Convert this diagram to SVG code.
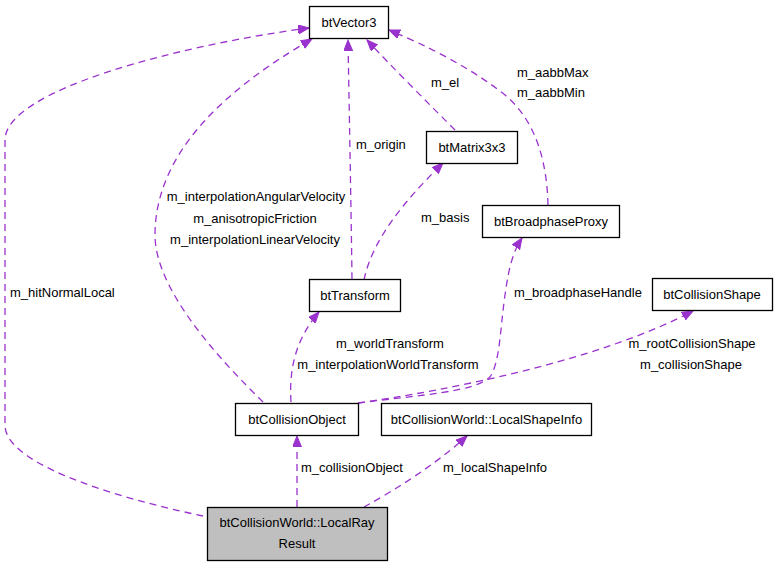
<svg xmlns="http://www.w3.org/2000/svg" width="779" height="568" viewBox="0 0 779 568">
<defs>
<style>
.node rect{fill:#ffffff;stroke:#000000;stroke-width:1.3}
.node.main rect{fill:#bfbfbf}
text{font-family:"Liberation Sans",Arial,sans-serif;font-size:13px;fill:#000000}
.node text{text-anchor:middle}
.edge path{fill:none;stroke:#9a32cd;stroke-width:1.3;stroke-dasharray:7,5;marker-end:url(#arr)}
.mid{text-anchor:middle}
</style>
<marker id="arr" markerUnits="userSpaceOnUse" markerWidth="12" markerHeight="10" refX="11" refY="4.5" orient="auto">
<path d="M0,0 L11,4.5 L0,9 z" fill="#9a32cd" stroke="#9a32cd" stroke-width="1"/>
</marker>
</defs>
<rect width="779" height="568" fill="#ffffff"/>
<g id="connectors" class="edge">
<path d="M203,516 C150,505 5,470 5,425 L5,140 C5,90 180,45 309,28"/>
<path d="M263,402 C220,360 155,290 155,235 C155,140 250,75 312,39"/>
<path d="M352,279 C351,200 349,100 348,40"/>
<path d="M455,130 C430,105 390,65 367,40"/>
<path d="M548,205 C547,160 535,120 505,95 C470,67 425,45 389,30"/>
<path d="M364,280 C372,240 405,200 443,163"/>
<path d="M291,402 C289,370 295,340 319,312"/>
<path d="M358,403 C420,395 475,392 490,377 C500,362 500,330 505,295 C509,265 514,250 522,238"/>
<path d="M358,403 C450,390 600,360 693,311"/>
<path d="M297,507 L297,436"/>
<path d="M364,507 C395,490 435,465 467,436"/>
</g>
<g id="labels">
<text x="10" y="297">m_hitNormalLocal</text>
<text class="mid" x="256" y="201">m_interpolationAngularVelocity</text>
<text class="mid" x="255" y="223">m_anisotropicFriction</text>
<text class="mid" x="255" y="244">m_interpolationLinearVelocity</text>
<text x="356" y="149">m_origin</text>
<text x="431" y="87">m_el</text>
<text x="517" y="77">m_aabbMax</text>
<text x="517" y="97">m_aabbMin</text>
<text x="421" y="222">m_basis</text>
<text class="mid" x="390" y="348">m_worldTransform</text>
<text class="mid" x="388" y="369">m_interpolationWorldTransform</text>
<text x="514" y="297">m_broadphaseHandle</text>
<text class="mid" x="692" y="348">m_rootCollisionShape</text>
<text class="mid" x="691" y="369">m_collisionShape</text>
<text x="301" y="472">m_collisionObject</text>
<text x="443" y="472">m_localShapeInfo</text>
</g>
<g id="btVector3" class="node">
<rect x="309.5" y="6.5" width="79" height="32"/>
<text x="349" y="27">btVector3</text>
</g>
<g id="btMatrix3x3" class="node">
<rect x="426.5" y="131.5" width="91" height="32"/>
<text x="472" y="152">btMatrix3x3</text>
</g>
<g id="btBroadphaseProxy" class="node">
<rect x="482.5" y="205.5" width="137" height="32"/>
<text x="551" y="226">btBroadphaseProxy</text>
</g>
<g id="btTransform" class="node">
<rect x="309.5" y="279.5" width="91" height="32"/>
<text x="355" y="300">btTransform</text>
</g>
<g id="btCollisionShape" class="node">
<rect x="652.5" y="278.5" width="120" height="32"/>
<text x="712" y="299">btCollisionShape</text>
</g>
<g id="btCollisionObject" class="node">
<rect x="235.5" y="403.5" width="123" height="32"/>
<text x="297" y="424">btCollisionObject</text>
</g>
<g id="btCollisionWorld_LocalShapeInfo" class="node">
<rect x="381.5" y="403.5" width="210" height="32"/>
<text x="486.5" y="424">btCollisionWorld::LocalShapeInfo</text>
</g>
<g id="btCollisionWorld_LocalRayResult" class="node main">
<rect x="207.5" y="507.5" width="180" height="53"/>
<text x="297" y="527">btCollisionWorld::LocalRay</text>
<text x="297" y="548">Result</text>
</g>
</svg>
